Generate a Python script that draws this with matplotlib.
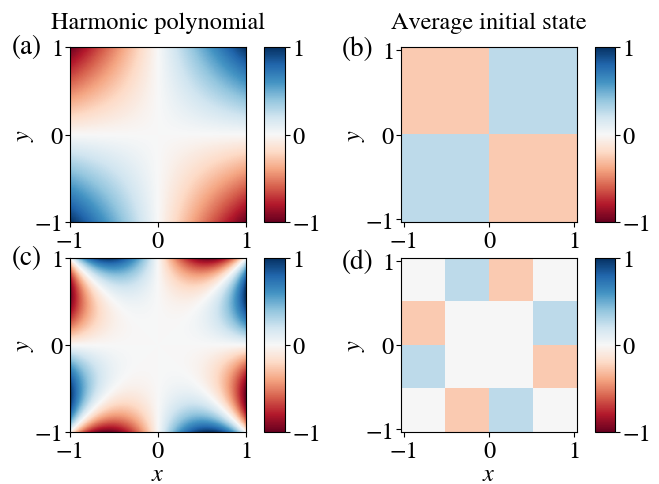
import numpy as np
import matplotlib
matplotlib.use("Agg")
from matplotlib import pyplot as plt

plt.rcParams['font.family'] = ['STIXGeneral', 'DejaVu Serif']
plt.rcParams['mathtext.fontset'] = 'stix'
plt.rcParams['font.size'] = 17.5

# harmonic polynomials: Im of (x + i y)^n
degrees = [2, 4]
parts = ['imag', 'imag']
panel_labels = ['(a)', '(b)', '(c)', '(d)']
col_titles = ['Harmonic polynomial', 'Average initial state']
ticks = [-1, 0, 1]

# averaged initial state, rows listed from top (y = 1) to bottom (y = -1)
avg_2x2 = [[-0.26, 0.26],
           [0.26, -0.26]]
avg_4x4 = [[0.0, 0.26, -0.26, 0.0],
           [-0.26, 0.0, 0.0, 0.26],
           [0.26, 0.0, 0.0, -0.26],
           [0.0, -0.26, 0.26, 0.0]]

n = 400
xs = np.linspace(-1, 1, n)
X, Y = np.meshgrid(xs, xs)
Z = X + 1j * Y


def harmonic(deg, part):
    f = Z ** deg
    f = f.imag if part == 'imag' else f.real
    f = f / np.abs(f).max()
    return f


fig = plt.figure(figsize=(6.59, 4.85), dpi=100)
W, H = 659, 485


def px_axes(l, t, r, b):
    return fig.add_axes([l / W, 1 - b / H, (r - l) / W, (b - t) / H])


rows = [(48, 223), (259, 433)]
label_y = [(47, 49), (258, 262)]
pad = 0.03
for i, (top, bot) in enumerate(rows):
    ax_l = px_axes(70, top, 246, bot)
    cax_l = px_axes(264, top, 285, bot)
    ax_r = px_axes(401, top, 577, bot)
    cax_r = px_axes(595, top, 615, bot)

    f = harmonic(degrees[i], parts[i])
    im = ax_l.pcolormesh(X, Y, f, cmap='RdBu', vmin=-1, vmax=1,
                         shading='auto', rasterized=True)
    ax_l.set_xlim(-1, 1)
    ax_l.set_ylim(-1, 1)

    avg = np.array(avg_2x2 if i == 0 else avg_4x4)
    im2 = ax_r.imshow(avg, cmap='RdBu', vmin=-1, vmax=1,
                      extent=[-1 - pad, 1 + pad, -1 - pad, 1 + pad],
                      interpolation='nearest', aspect='auto')
    ax_r.set_xlim(-1 - pad, 1 + pad)
    ax_r.set_ylim(-1 - pad, 1 + pad)

    for ax, cax, m in [(ax_l, cax_l, im), (ax_r, cax_r, im2)]:
        ax.set_xticks(ticks)
        ax.set_yticks(ticks)
        ax.set_ylabel('$y$', labelpad=-1)
        cb = fig.colorbar(m, cax=cax, ticks=ticks)
        cb.ax.tick_params(pad=2)
        if i == 1:
            ax.set_xlabel('$x$', labelpad=0.5)
        ax.tick_params(axis='x', pad=3)
        ax.tick_params(axis='y', pad=1.5)

    if i == 0:
        ax_l.set_title(col_titles[0], fontsize=17.5, pad=14)
        ax_r.set_title(col_titles[1], fontsize=17.5, pad=14)

    fig.text(12 / W, 1 - label_y[i][0] / H, panel_labels[2 * i], ha='left', va='center', fontsize=19.5)
    fig.text(342 / W, 1 - label_y[i][1] / H, panel_labels[2 * i + 1], ha='left', va='center', fontsize=19.5)

fig.savefig('out.png', dpi=100)
